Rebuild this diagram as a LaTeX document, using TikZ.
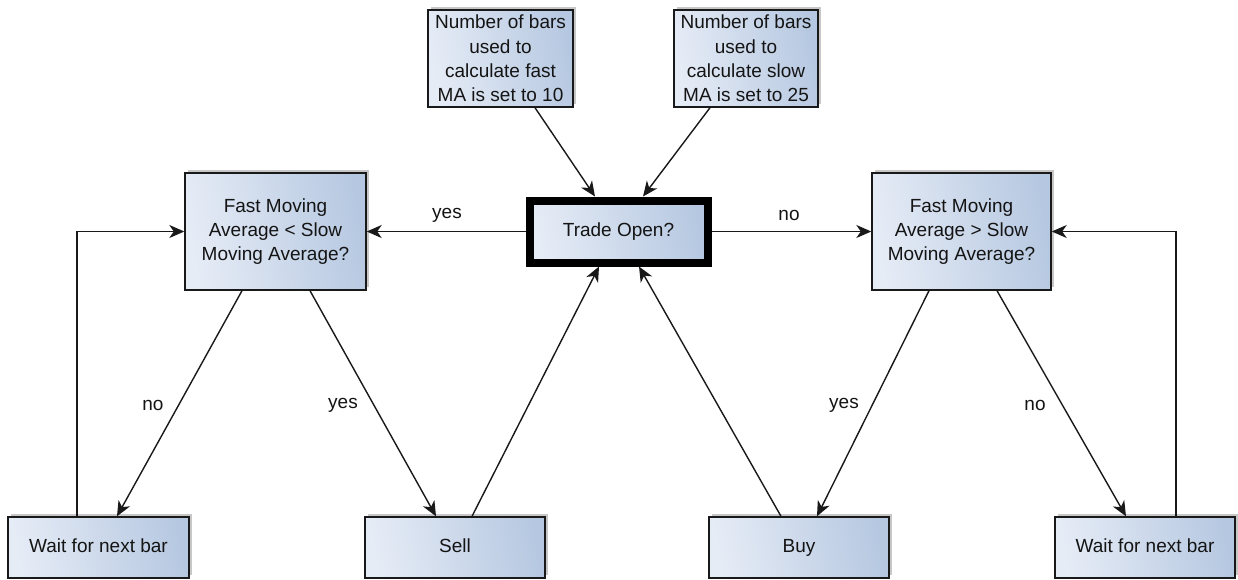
\documentclass[tikz,border=0pt]{standalone}
\usepackage{fontspec}
\setmainfont{Liberation Sans}
\usetikzlibrary{arrows.meta,shadows}
\definecolor{boxl}{HTML}{E6ECF6}
\definecolor{boxr}{HTML}{B6C8E1}
\definecolor{txt}{HTML}{141414}
\tikzset{
  box/.style={draw=black!90, line width=1.4pt, left color=boxl, right color=boxr,
    shading angle=100, inner sep=0pt, align=center, text=txt,
    font=\fontsize{19}{24.3}\selectfont,
    drop shadow={shadow xshift=3pt, shadow yshift=3pt, opacity=0.22, fill=black}},
  onebox/.style={box, minimum height=61pt, text height=13.5pt, text depth=4pt},
  conn/.style={draw=black!90, line width=1.4pt,
    -{Stealth[length=15pt,width=13pt,inset=4.5pt]}},
  lbl/.style={text=txt, font=\fontsize{19}{22}\selectfont, inner sep=0pt}
}
\begin{document}
\begin{tikzpicture}[x=1pt,y=-1pt]
\useasboundingbox (0,0) rectangle (1238,579);
\fill[white] (0,0) rectangle (1238,579);
% nodes
\node[box, minimum width=145pt, minimum height=97pt] (fastn) at (500.5,58.5)
  {Number of bars\\used to\\calculate fast\\MA is set to 10};
\node[box, minimum width=144pt, minimum height=97pt] (slown) at (746,58.5)
  {Number of bars\\used to\\calculate slow\\MA is set to 25};
\node[box, line width=8pt, draw=black, minimum width=178pt, minimum height=62pt] (trade) at (618.5,231.5)
  {Trade Open?};
\node[box, minimum width=181pt, minimum height=117pt] (lq) at (275.5,231.5)
  {Fast Moving\\Average < Slow\\Moving Average?};
\node[box, minimum width=179pt, minimum height=117pt] (rq) at (961.5,231.5)
  {Fast Moving\\Average > Slow\\Moving Average?};
\node[onebox, minimum width=181pt] (waitl) at (98.5,547.5) {Wait for next bar};
\node[onebox, minimum width=180pt] (sell) at (455,547.5) {Sell};
\node[onebox, minimum width=180pt] (buy) at (799,547.5) {Buy};
\node[onebox, minimum width=180pt] (waitr) at (1145,547.5) {Wait for next bar};
% connectors
\draw[conn] (fastn.south -| 535,0) -- (trade.north -| 595,0);
\draw[conn] (slown.south -| 710,0) -- (trade.north -| 643,0);
\draw[conn] (trade.west) -- (lq.east);
\draw[conn] (trade.east) -- (rq.west);
\draw[conn] (lq.south -| 242,0) -- (waitl.north -| 117,0);
\draw[conn] (lq.south -| 310,0) -- (sell.north -| 436,0);
\draw[conn] (sell.north -| 472,0) -- (trade.south -| 599,0);
\draw[conn] (buy.north -| 781,0) -- (trade.south -| 639,0);
\draw[conn] (rq.south -| 929,0) -- (buy.north -| 817,0);
\draw[conn] (rq.south -| 997,0) -- (waitr.north -| 1126,0);
\draw[conn] (waitl.north -| 77,0) |- (lq.west);
\draw[conn] (waitr.north -| 1176,0) |- (rq.east);
% labels
\node[lbl] (l1) at (447,215) {yes};
\node[lbl] (l2) at (789,215) {no};
\node[lbl] (l3) at (153,405) {no};
\node[lbl] (l4) at (343,405) {yes};
\node[lbl] (l5) at (844,405) {yes};
\node[lbl] (l6) at (1035,405) {no};
\end{tikzpicture}
\end{document}
